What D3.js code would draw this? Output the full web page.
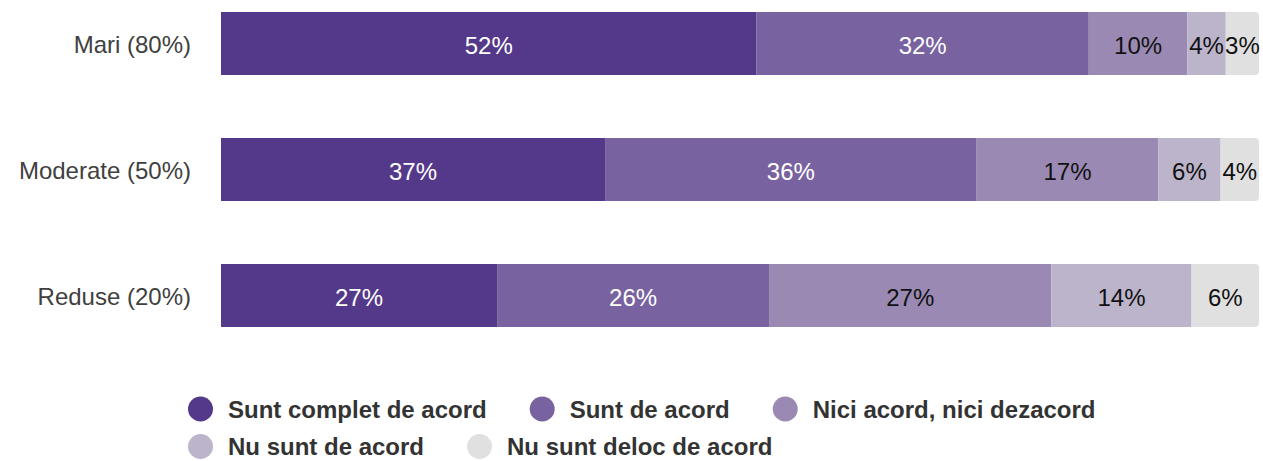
<!DOCTYPE html>
<html>
<head>
<meta charset="utf-8">
<script src="https://cdn.jsdelivr.net/npm/d3@7"></script>
<style>
  html, body { margin: 0; padding: 0; background: #fff; }
  svg { display: block; font-family: "Liberation Sans", Arial, sans-serif; }
</style>
</head>
<body>
<svg id="chart" width="1263" height="461"></svg>
<script>
const categories = ["Mari (80%)", "Moderate (50%)", "Reduse (20%)"];
const seriesNames = ["Sunt complet de acord", "Sunt de acord", "Nici acord, nici dezacord", "Nu sunt de acord", "Nu sunt deloc de acord"];
const colors = ["#54388a", "#7862a0", "#9a8ab3", "#bcb4cb", "#e0e0e0"];
const labelColors = ["#ffffff", "#ffffff", "#111111", "#111111", "#111111"];
// segment shares (width) per category
const completAcord   = [51.6, 37.0, 26.6];
const deAcord        = [32.0, 35.8, 26.2];
const niciAcord      = [9.5, 17.5, 27.2];
const nuAcord        = [3.7, 6.0, 13.5];
const delocAcord     = [3.2, 3.7, 6.5];
// printed labels
const completLabels  = ["52%", "37%", "27%"];
const deAcordLabels  = ["32%", "36%", "26%"];
const niciLabels     = ["10%", "17%", "27%"];
const nuLabels       = ["4%", "6%", "14%"];
const delocLabels    = ["3%", "4%", "6%"];

const series = [completAcord, deAcord, niciAcord, nuAcord, delocAcord];
const labels = [completLabels, deAcordLabels, niciLabels, nuLabels, delocLabels];

const svg = d3.select("#chart");
const x = d3.scaleLinear().domain([0, 100]).range([221, 1259]);
const y = d3.scaleBand().domain(categories).range([12, 327]).paddingInner(0.5).paddingOuter(0);

const rows = categories.map((c, i) => {
  let acc = 0;
  return series.map((s, k) => {
    const seg = { cat: c, k, x0: acc, x1: acc + s[i], label: labels[k][i] };
    acc += s[i];
    return seg;
  });
});

const r = 4;
rows.forEach(row => {
  row.forEach(seg => {
    const x0 = x(seg.x0), x1 = x(seg.x1), y0 = y(seg.cat), h = y.bandwidth();
    if (seg.k === series.length - 1) {
      const p = d3.path();
      p.moveTo(x0, y0);
      p.lineTo(x1 - r, y0);
      p.arcTo(x1, y0, x1, y0 + r, r);
      p.lineTo(x1, y0 + h - r);
      p.arcTo(x1, y0 + h, x1 - r, y0 + h, r);
      p.lineTo(x0, y0 + h);
      p.closePath();
      svg.append("path").attr("d", p.toString()).attr("fill", colors[seg.k]);
    } else {
      svg.append("rect").attr("x", x0).attr("y", y0).attr("width", x1 - x0).attr("height", h).attr("fill", colors[seg.k]);
    }
    svg.append("text")
      .attr("x", (x0 + x1) / 2)
      .attr("y", y0 + h / 2 + 10)
      .attr("text-anchor", "middle")
      .attr("font-size", 24)
      .attr("fill", labelColors[seg.k])
      .text(seg.label);
  });
});

// category axis labels
const yAxis = d3.axisLeft(y).tickSize(0).tickPadding(0);
const gy = svg.append("g").attr("transform", "translate(191,1.5)").call(yAxis);
gy.select(".domain").remove();
gy.selectAll("text").attr("font-size", 24).attr("fill", "#404040")
  .attr("font-family", '"Liberation Sans", Arial, sans-serif').attr("dy", "0.35em");

// legend (flow layout)
const legendRows = [[0, 1, 2], [3, 4]];
const rowY = [409, 446.5];
legendRows.forEach((idxs, ri) => {
  let cx = 200.5;
  idxs.forEach(k => {
    svg.append("circle").attr("cx", cx).attr("cy", rowY[ri]).attr("r", 12.5).attr("fill", colors[k]);
    const t = svg.append("text")
      .attr("x", cx + 27.5)
      .attr("y", rowY[ri] + 8.5)
      .attr("font-size", 24)
      .attr("font-weight", "bold")
      .attr("fill", "#333333")
      .text(seriesNames[k]);
    const w = t.node().getComputedTextLength();
    cx = cx + 27.5 + w + 55.5;
  });
});
</script>
</body>
</html>
